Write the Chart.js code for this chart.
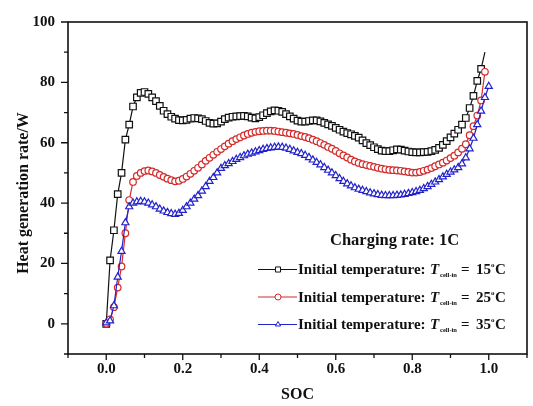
<!DOCTYPE html>
<html>
<head>
    <title>Heat generation rate vs SOC</title>
    <script src="https://cdn.jsdelivr.net/npm/chart.js"></script>
    <style>
        body { margin: 0; background: #ffffff; }
        .chart-box { width: 533px; height: 406px; }
    </style>
</head>
<body>
    <div class="chart-box">
        <canvas id="heatChart" width="533" height="406"></canvas>
    </div>

    <script>
        // x values (SOC), shared by all three series
        var soc = [
            0.00, 0.01, 0.02, 0.03, 0.04, 0.05, 0.06, 0.07, 0.08, 0.09,
            0.10, 0.11, 0.12, 0.13, 0.14, 0.15, 0.16, 0.17, 0.18, 0.19,
            0.20, 0.21, 0.22, 0.23, 0.24, 0.25, 0.26, 0.27, 0.28, 0.29,
            0.30, 0.31, 0.32, 0.33, 0.34, 0.35, 0.36, 0.37, 0.38, 0.39,
            0.40, 0.41, 0.42, 0.43, 0.44, 0.45, 0.46, 0.47, 0.48, 0.49,
            0.50, 0.51, 0.52, 0.53, 0.54, 0.55, 0.56, 0.57, 0.58, 0.59,
            0.60, 0.61, 0.62, 0.63, 0.64, 0.65, 0.66, 0.67, 0.68, 0.69,
            0.70, 0.71, 0.72, 0.73, 0.74, 0.75, 0.76, 0.77, 0.78, 0.79,
            0.80, 0.81, 0.82, 0.83, 0.84, 0.85, 0.86, 0.87, 0.88, 0.89,
            0.90, 0.91, 0.92, 0.93, 0.94, 0.95, 0.96, 0.97, 0.98, 0.99,
            1.00
        ];

        // heat generation rate (W), initial temperature 15 C
        var heat15 = [
            0, 21, 31, 43, 50, 61, 66, 72, 75, 76.5,
            76.8, 76.2, 75, 73.8, 72.2, 70.6, 69.5, 68.6, 68, 67.5,
            67.4, 67.6, 68, 68.2, 68.1, 67.8, 67.2, 66.6, 66.3, 66.4,
            67, 67.8, 68.3, 68.6, 68.7, 68.8, 68.9, 68.7, 68.3, 68.1,
            68.5, 69.1, 69.8, 70.4, 70.7, 70.6, 70.2, 69.5, 68.7, 68,
            67.3, 67, 67, 67.2, 67.4, 67.4, 67.1, 66.6, 66.1, 65.6,
            64.9, 64.3, 63.7, 63.2, 62.8, 62.3, 61.7, 60.8, 59.9, 59.2,
            58.5, 57.9, 57.4, 57.2, 57.2, 57.5, 57.8, 57.7, 57.4, 57.1,
            56.9, 56.8, 56.8, 56.9, 57, 57.2, 57.6, 58.3, 59.3, 60.5,
            61.8, 63, 64.3, 66, 68.2, 71.5, 75.5, 80.5, 84.5, 90
        ];

        // initial temperature 25 C
        var heat25 = [
            0, 1.5, 5.5, 12, 19, 30, 41, 47, 49, 50,
            50.6, 50.8, 50.5, 50, 49.3, 48.7, 48.1, 47.6, 47.2, 47.4,
            48, 48.8, 49.7, 50.7, 51.7, 52.8, 54, 55, 56, 57,
            57.9, 58.8, 59.7, 60.5, 61.2, 61.8, 62.4, 62.9, 63.3, 63.6,
            63.8, 63.9, 64, 64, 63.9, 63.7, 63.5, 63.3, 63.1, 62.9,
            62.6, 62.2, 61.9, 61.5, 61, 60.5, 59.9, 59.3, 58.6, 58,
            57.3, 56.5, 55.8, 55.1, 54.4, 53.8, 53.3, 52.9, 52.6, 52.3,
            52, 51.7, 51.4, 51.2, 51, 50.9, 50.8, 50.7, 50.5, 50.3,
            50.1, 50.1, 50.3, 50.7, 51.1, 51.6, 52.2, 52.8, 53.4, 54.1,
            54.9, 55.7, 56.8, 58, 59.5, 62.5, 65.5, 69, 74, 83.5
        ];

        // initial temperature 35 C
        var heat35 = [
            0.3, 1, 6, 15.5, 24, 33.5, 38.8, 40, 40.4, 40.6,
            40.4, 40, 39.4, 38.8, 38, 37.4, 36.9, 36.5, 36.3, 36.6,
            37.6, 38.8, 40, 41.3, 42.5, 44, 45.5, 47.2, 48.5, 50,
            51.5, 52.4, 53.1, 53.8, 54.5, 55.1, 55.7, 56.2, 56.6, 57,
            57.4, 57.8, 58.1, 58.3, 58.5, 58.6, 58.5, 58.2, 57.8, 57.3,
            56.8, 56.4, 55.8, 55.1, 54.3, 53.5, 52.7, 51.8, 50.9, 50,
            49.1, 48.1, 47.2, 46.4, 45.7, 45.1, 44.6, 44.2, 43.8, 43.4,
            43.1, 42.8, 42.6, 42.5, 42.5, 42.5, 42.6, 42.7, 42.9, 43.2,
            43.5, 43.8, 44.2, 44.8, 45.5, 46.2, 47, 47.8, 48.7, 49.5,
            50.3, 51, 51.8, 53, 55, 58, 61.5, 66, 70.5, 75,
            78.7
        ];

        var seriesNames = ['15', '25', '35'];
        var seriesColors = ['#111111', '#d42a2a', '#2222cc'];
        var seriesMarkers = ['rect', 'circle', 'triangle'];

        var xLabelTicks = [0.0, 0.2, 0.4, 0.6, 0.8, 1.0];
        var yLabelTicks = [0, 20, 40, 60, 80, 100];

        var SERIF = "'Liberation Serif', 'Times New Roman', serif";

        function toPoints(values) {
            return values.map((v, i) => ({ x: soc[i], y: v }));
        }

        function isLabelled(v, list) {
            return list.some(t => Math.abs(t - v) < 1e-6);
        }

        var framePlugin = {
            id: 'framePlugin',
            afterDraw(chart) {
                var ctx = chart.ctx;
                var a = chart.chartArea;
                var xs = chart.scales.x, ys = chart.scales.y;
                ctx.save();

                // box round the plot
                ctx.strokeStyle = '#111';
                ctx.lineWidth = 1.6;
                ctx.strokeRect(a.left, a.top, a.right - a.left, a.bottom - a.top);

                // outward ticks, longer where labelled
                ctx.lineWidth = 1.3;
                ctx.beginPath();
                xs.ticks.forEach(t => {
                    var px = xs.getPixelForValue(t.value);
                    var len = isLabelled(t.value, xLabelTicks) ? 6 : 4;
                    ctx.moveTo(px, a.bottom);
                    ctx.lineTo(px, a.bottom + len);
                });
                ys.ticks.forEach(t => {
                    var py = ys.getPixelForValue(t.value);
                    var len = isLabelled(t.value, yLabelTicks) ? 7 : 4;
                    ctx.moveTo(a.left, py);
                    ctx.lineTo(a.left - len, py);
                });
                ctx.stroke();

                // axis titles
                ctx.fillStyle = '#111';
                ctx.font = 'bold 16px ' + SERIF;
                ctx.textAlign = 'center';
                ctx.textBaseline = 'middle';
                ctx.fillText('SOC', (a.left + a.right) / 2, 395);
                ctx.save();
                ctx.translate(24, 193);
                ctx.rotate(-Math.PI / 2);
                ctx.fillText('Heat generation rate/W', 0, 0);
                ctx.restore();

                // legend
                ctx.textAlign = 'left';
                ctx.textBaseline = 'alphabetic';
                ctx.font = 'bold 16.5px ' + SERIF;
                ctx.fillText('Charging rate: 1C', 330, 245);

                var rowY = [269.5, 297, 324.5];
                seriesNames.forEach((name, i) => {
                    var y = rowY[i];
                    ctx.strokeStyle = seriesColors[i];
                    ctx.lineWidth = 1;
                    ctx.beginPath();
                    ctx.moveTo(258, y);
                    ctx.lineTo(297, y);
                    ctx.stroke();
                    ctx.fillStyle = '#ffffff';
                    Chart.helpers.drawPoint(ctx, {
                        pointStyle: seriesMarkers[i],
                        radius: seriesMarkers[i] === 'rect' ? 3.6 : 3,
                        borderWidth: 1,
                        rotation: 0
                    }, 278, y);

                    var base = y + 4.5;
                    ctx.fillStyle = '#111';
                    ctx.font = 'bold 15px ' + SERIF;
                    ctx.fillText('Initial temperature:', 298, base);
                    ctx.font = 'italic bold 15px ' + SERIF;
                    ctx.fillText('T', 430, base);
                    ctx.font = 'bold 6.5px ' + SERIF;
                    ctx.fillText('cell-in', 440, base + 3);
                    ctx.font = 'bold 15px ' + SERIF;
                    ctx.fillText('=', 461, base);
                    ctx.fillText(name, 476, base);
                    ctx.font = 'bold 7px ' + SERIF;
                    ctx.fillText('o', 491, base - 7);
                    ctx.font = 'bold 15px ' + SERIF;
                    ctx.fillText('C', 495, base);
                });

                ctx.restore();
            }
        };

        var ctx = document.getElementById('heatChart').getContext('2d');

        var heatChart = new Chart(ctx, {
            type: 'scatter',
            data: {
                datasets: [
                    {
                        label: seriesNames[0],
                        data: toPoints(heat15),
                        borderColor: seriesColors[0],
                        backgroundColor: '#ffffff',
                        pointStyle: seriesMarkers[0],
                        // last point is only the end of the line
                        pointRadius: c => c.dataIndex === heat15.length - 1 ? 0 : 4.6,
                        pointBorderWidth: 1.2,
                        borderWidth: 1.2,
                        showLine: true,
                        order: 3
                    },
                    {
                        label: seriesNames[1],
                        data: toPoints(heat25),
                        borderColor: seriesColors[1],
                        backgroundColor: '#ffffff',
                        pointStyle: seriesMarkers[1],
                        pointRadius: 3.3,
                        pointBorderWidth: 1.2,
                        borderWidth: 1.2,
                        showLine: true,
                        order: 2
                    },
                    {
                        label: seriesNames[2],
                        data: toPoints(heat35),
                        borderColor: seriesColors[2],
                        backgroundColor: '#ffffff',
                        pointStyle: seriesMarkers[2],
                        pointRadius: 4.1,
                        pointBorderWidth: 1.2,
                        borderWidth: 1.2,
                        showLine: true,
                        order: 1
                    }
                ]
            },
            options: {
                responsive: false,
                animation: false,
                devicePixelRatio: 1,
                layout: { padding: { left: 0, right: 1, top: 12, bottom: 0 } },
                plugins: {
                    legend: { display: false },
                    tooltip: { enabled: false }
                },
                scales: {
                    x: {
                        type: 'linear',
                        position: 'bottom',
                        min: -0.1,
                        max: 1.1,
                        grid: { display: false, drawTicks: false },
                        border: { display: false },
                        afterFit: function (scale) { scale.height = 52; },
                        ticks: {
                            stepSize: 0.1,
                            autoSkip: false,
                            maxRotation: 0,
                            padding: 6,
                            color: '#111',
                            font: { family: SERIF, size: 15, weight: 'bold' },
                            callback: v => isLabelled(v, xLabelTicks) ? v.toFixed(1) : ''
                        }
                    },
                    y: {
                        min: -10,
                        max: 100,
                        grid: { display: false, drawTicks: false },
                        border: { display: false },
                        afterFit: function (scale) { scale.width = 68; },
                        ticks: {
                            stepSize: 10,
                            autoSkip: false,
                            padding: 13,
                            color: '#111',
                            font: { family: SERIF, size: 15, weight: 'bold' },
                            callback: v => isLabelled(v, yLabelTicks) ? String(v) : ''
                        }
                    }
                }
            },
            plugins: [framePlugin]
        });
    </script>
</body>
</html>
